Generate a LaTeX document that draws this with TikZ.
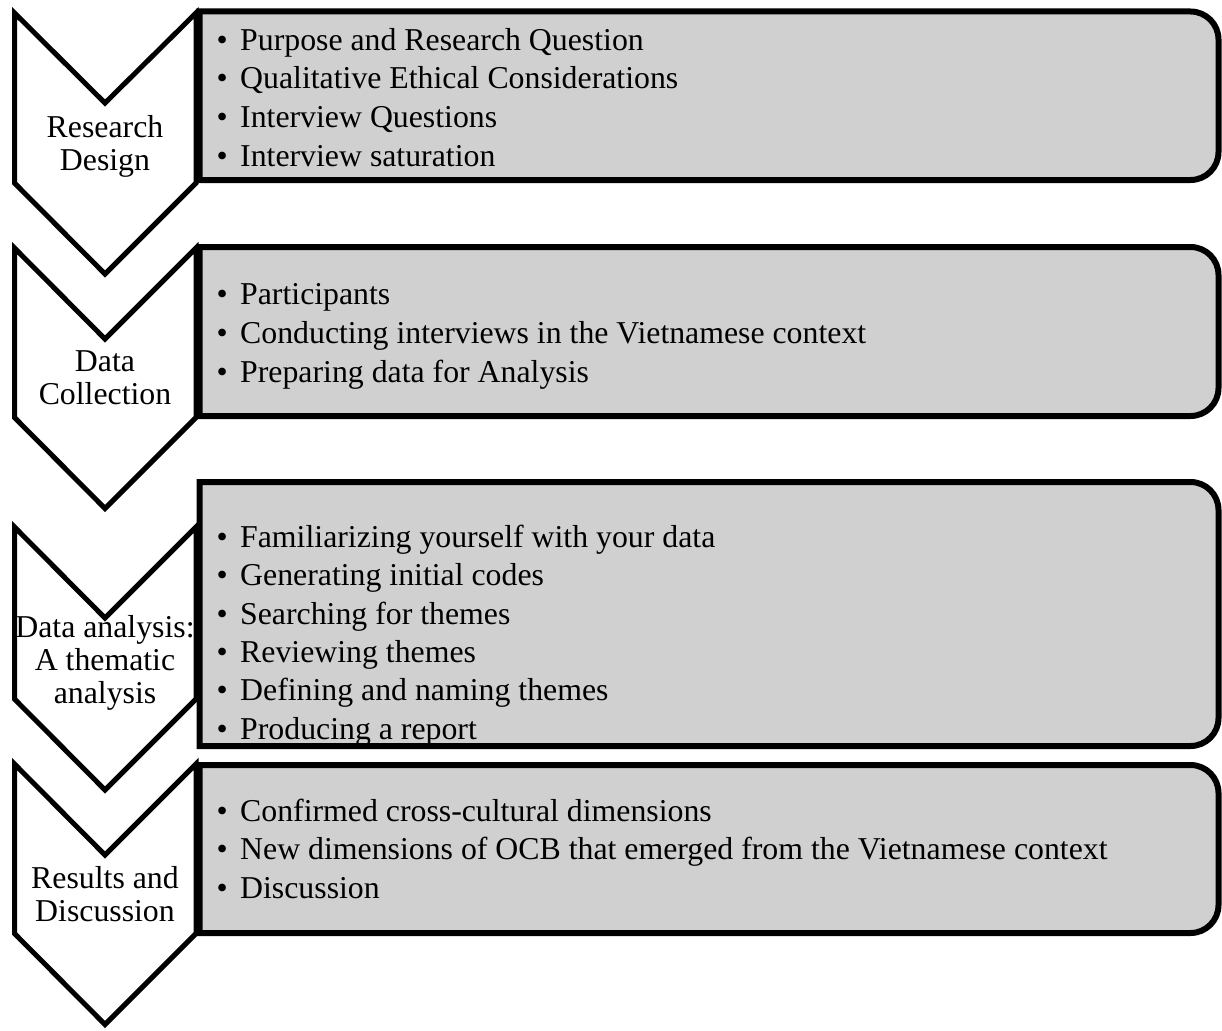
\documentclass[tikz,border=0pt]{standalone}
\usepackage{fontspec}
\setmainfont{Liberation Serif}
\usetikzlibrary{shadows}
\definecolor{boxgray}{RGB}{208,208,208}
\begin{document}
\begin{tikzpicture}[x=1pt,y=-1pt,
  chevron/.style={draw=black, fill=white, line width=5pt, miter limit=10,
    drop shadow={opacity=0.15, shadow xshift=2pt, shadow yshift=-2pt}},
  listbox/.style={draw=black, fill=boxgray, line width=6pt},
  steplabel/.style={align=center, inner sep=0pt, font=\fontsize{31.8}{33}\selectfont},
  itemtext/.style={anchor=base west, inner sep=0pt, font=\fontsize{31.8}{38.7}\selectfont}
]
\useasboundingbox (0,0) rectangle (1222,1030);
\fill[white] (0,0) rectangle (1222,1030);

% chevrons
\path[chevron] (14.5,13) -- (105,103) -- (196,13) -- (196,183) -- (105,274) -- (14.5,183) -- cycle;
\path[chevron] (14.5,248) -- (105,339) -- (196,248) -- (196,417.5) -- (105,508.5) -- (14.5,417.5) -- cycle;
\path[chevron] (14.5,527) -- (105,618) -- (196,527) -- (196,699) -- (105,790) -- (14.5,699) -- cycle;
\path[chevron] (14.5,764) -- (105,855) -- (196,764) -- (196,933.5) -- (105,1024.5) -- (14.5,933.5) -- cycle;

% list boxes (square left corners, rounded right corners)
\path[listbox] (199.5,11.5) -- (1190.5,11.5) arc[start angle=90,end angle=0,radius=28pt]
  -- (1218.5,152) arc[start angle=0,end angle=-90,radius=28pt] -- (199.5,180) -- cycle;
\path[listbox] (199.5,247) -- (1190.5,247) arc[start angle=90,end angle=0,radius=28pt]
  -- (1218.5,388) arc[start angle=0,end angle=-90,radius=28pt] -- (199.5,416) -- cycle;
\path[listbox] (199.5,482) -- (1190.5,482) arc[start angle=90,end angle=0,radius=28pt]
  -- (1218.5,718) arc[start angle=0,end angle=-90,radius=28pt] -- (199.5,746) -- cycle;
\path[listbox] (199.5,765) -- (1190.5,765) arc[start angle=90,end angle=0,radius=28pt]
  -- (1218.5,905) arc[start angle=0,end angle=-90,radius=28pt] -- (199.5,933) -- cycle;

% step labels
\node[steplabel] (s1) at (105,146) {Research\\Design};
\node[steplabel] (s2) at (105,378) {Data\\Collection};
\node[steplabel] (s3) at (105,662.5) {Data analysis:\\A thematic\\analysis};
\node[steplabel] (s4) at (105,894) {Results and\\Discussion};

% items
\newcommand{\bul}{\makebox[23.6pt][l]{\textbullet}}
\node[itemtext] (a1) at (216.4,50.5)  {\bul Purpose and Research Question};
\node[itemtext] (a2) at (216.4,89)    {\bul Qualitative Ethical Considerations};
\node[itemtext] (a3) at (216.4,127.5) {\bul Interview Questions};
\node[itemtext] (a4) at (216.4,166)   {\bul Interview saturation};

\node[itemtext] (b1) at (216.4,304) {\bul Participants};
\node[itemtext] (b2) at (216.4,343) {\bul Conducting interviews in the Vietnamese context};
\node[itemtext] (b3) at (216.4,382) {\bul Preparing data for Analysis};

\node[itemtext] (c1) at (216.4,547)   {\bul Familiarizing yourself with your data};
\node[itemtext] (c2) at (216.4,585.5) {\bul Generating initial codes};
\node[itemtext] (c3) at (216.4,624)   {\bul Searching for themes};
\node[itemtext] (c4) at (216.4,662.3) {\bul Reviewing themes};
\node[itemtext] (c5) at (216.4,700.6) {\bul Defining and naming themes};
\node[itemtext] (c6) at (216.4,739)   {\bul Producing a report};

\node[itemtext] (e1) at (216.4,821)   {\bul Confirmed cross-cultural dimensions};
\node[itemtext] (e2) at (216.4,859.7) {\bul New dimensions of OCB that emerged from the Vietnamese context};
\node[itemtext] (e3) at (216.4,898.2) {\bul Discussion};
\end{tikzpicture}
\end{document}
